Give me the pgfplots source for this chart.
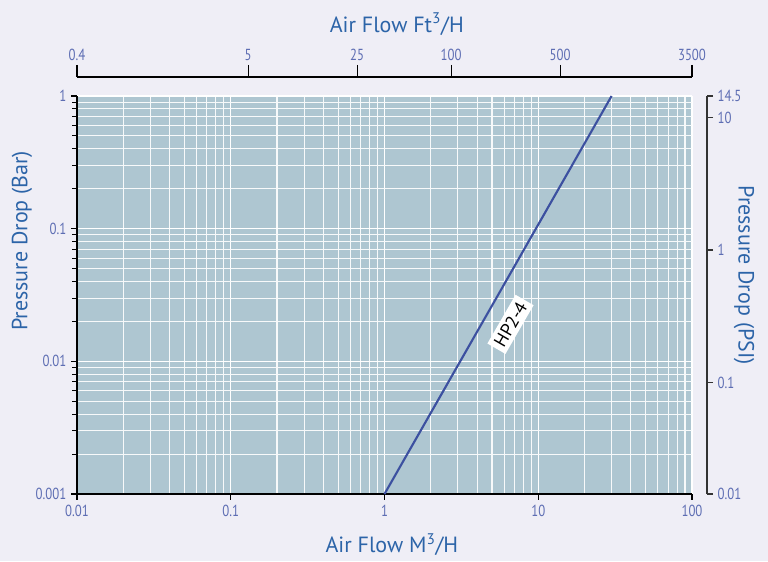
\documentclass[border=0pt]{standalone}
\usepackage{pgfplots}
\pgfplotsset{compat=1.18}
\usepackage{fontspec}
\setmainfont{PT Sans}
\newfontfamily\tickfont[FakeStretch=0.8]{PT Sans}
\definecolor{pagebg}{HTML}{EFEEF6}
\definecolor{plotbg}{HTML}{AEC6D1}
\definecolor{ticklab}{HTML}{5D6DB3}
\definecolor{labblue}{HTML}{2C64A8}
\definecolor{linecol}{HTML}{3C50A0}

\begin{document}
\begin{tikzpicture}
\fill[pagebg] (-57.75pt,-50.25pt) rectangle (518.25pt,370.5pt);
\useasboundingbox (-57.75pt,-50.25pt) rectangle (518.25pt,370.5pt);

% main axis: bar vs m3/h
\begin{axis}[
    at={(0,0)}, anchor=south west,
    scale only axis, width=461.25pt, height=298.5pt,
    xmode=log, ymode=log,
    xmin=0.01, xmax=100, ymin=0.001, ymax=1,
    axis background/.style={fill=plotbg},
    axis x line*=bottom, axis y line*=left,
    axis line style={-, black, line width=0.9pt},
    tick align=outside,
    major tick length=4.5pt, minor tick length=3.5pt,
    every tick/.style={black, line width=0.8pt},
    minor x tick style={draw=none},
    grid=both,
    major grid style={white, line width=0.9pt},
    minor grid style={white!90!plotbg, line width=0.8pt},
    xtick={0.01,0.1,1,10,100}, xticklabels={0.01,0.1,1,10,100},
    ytick={0.001,0.01,0.1,1}, yticklabels={0.001,0.01,0.1,1},
    tick label style={font=\tickfont\fontsize{12}{14}\selectfont, text=ticklab},
    xlabel={Air Flow M\textsuperscript{3}/H},
    ylabel={Pressure Drop (Bar)},
    label style={font=\fontsize{16.5}{19}\selectfont, text=labblue},
    xlabel style={at={(axis description cs:0.512,-0.128)}, anchor=center},
    ylabel style={at={(axis description cs:-0.0894,0.636)}, anchor=center},
]
\addplot[color=linecol, line width=1.6pt] coordinates {(1,0.001) (30,1)};
\node[fill=white, rotate=60, inner sep=3pt, font=\fontsize{13.5}{15}\selectfont]
    at (axis cs:6.6,0.019) {HP2-4};
\end{axis}

% top axis: ft3/h
\begin{axis}[
    at={(0,302.75pt)}, anchor=south west,
    scale only axis, width=461.25pt, height=10pt,
    xmode=log, xmin=0.4, xmax=3500, ymin=0, ymax=1,
    axis x line=top, axis y line=none,
    axis line style={-, black, line width=1.1pt},
    xtick align=outside, major tick length=9pt,
    every tick/.style={black, line width=0.9pt},
    xtick={0.4,5,25,100,500,3500}, xticklabels={0.4,5,25,100,500,3500},
    minor xtick={}, ytick=\empty,
    tick label style={font=\tickfont\fontsize{12}{14}\selectfont, text=ticklab},
    xlabel={Air Flow Ft\textsuperscript{3}/H},
    xlabel style={font=\fontsize{16.5}{19}\selectfont, text=labblue,
        at={(axis description cs:0.52,4.975)}, anchor=center},
]
\end{axis}

% right axis: psi
\begin{axis}[
    at={(472.5pt,0)}, anchor=south east,
    scale only axis, width=10pt, height=298.5pt,
    ymode=log, ymin=0.0145, ymax=14.5, xmin=0, xmax=1,
    axis y line=right, axis x line=none,
    axis line style={-, black!80, line width=1.1pt},
    ytick align=outside, major tick length=4.5pt,
    every tick/.style={black!80, line width=0.9pt},
    ytick={0.0145,0.1,1,10,14.5}, yticklabels={0.01,0.1,1,10,14.5},
    minor ytick={}, xtick=\empty,
    tick label style={font=\tickfont\fontsize{12}{14}\selectfont, text=ticklab},
    ylabel={Pressure Drop (PSI)},
    ylabel style={font=\fontsize{16.5}{19}\selectfont, text=labblue,
        rotate=180, at={(axis description cs:3.775,0.55)}, anchor=center},
]
\end{axis}
\end{tikzpicture}
\end{document}
